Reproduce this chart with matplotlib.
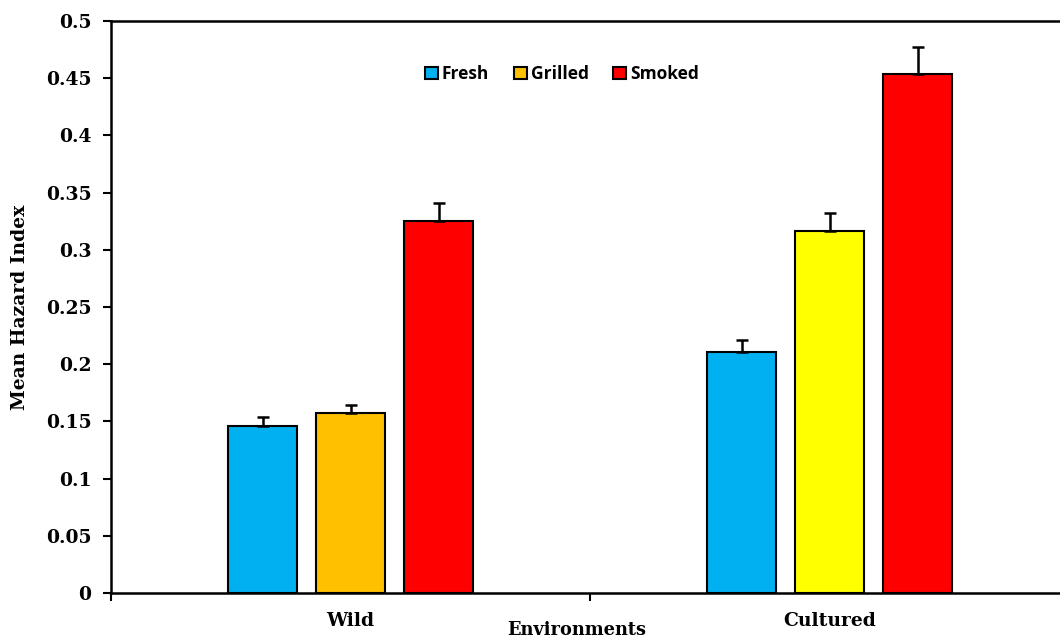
import matplotlib
matplotlib.use("Agg")
import matplotlib.pyplot as plt
import numpy as np
from matplotlib.patches import Patch

categories = ["Wild", "Cultured"]
series = ["Fresh", "Grilled", "Smoked"]
fresh = [0.146, 0.211]
grilled = [0.157, 0.316]
smoked = [0.325, 0.454]
fresh_err = [0.008, 0.010]
grilled_err = [0.007, 0.016]
smoked_err = [0.016, 0.023]
yticks = [0, 0.05, 0.1, 0.15, 0.2, 0.25, 0.3, 0.35, 0.4, 0.45, 0.5]
ytick_labels = ["0", "0.05", "0.1", "0.15", "0.2", "0.25", "0.3", "0.35", "0.4", "0.45", "0.5"]

fresh_colors = ["#00B0F0", "#00B0F0"]
grilled_colors = ["#FFC000", "#FFFF00"]
smoked_colors = ["#FF0000", "#FF0000"]

W, H = 1060, 641
fig = plt.figure(figsize=(W / 100, H / 100), dpi=100)
ax = fig.add_axes([111 / W, (H - 593) / H, 958 / W, (593 - 21) / H])

serif = "DejaVu Serif"
centers = np.arange(len(categories)) + 0.5
width = 69 / 479
step = 88 / 479

groups = [(fresh, fresh_err, fresh_colors), (grilled, grilled_err, grilled_colors), (smoked, smoked_err, smoked_colors)]
for i, (vals, errs, cols) in enumerate(groups):
    x = centers + (i - 1) * step
    ax.bar(x, vals, width=width, color=cols, edgecolor="black", linewidth=1.5, zorder=2)
    ax.errorbar(x, vals, yerr=[np.zeros(len(vals)), errs], fmt="none", ecolor="black",
                elinewidth=1.8, capsize=4.5, capthick=1.8, zorder=3)

ax.set_xlim(0, 2)
ax.set_ylim(0, 0.5)
ax.set_yticks(yticks)
ax.set_yticklabels(ytick_labels, fontfamily=serif, fontweight="bold", fontsize=13.5)
ax.set_xticks([0, 1, 2])
ax.set_xticklabels([])
ax.set_xticks(centers, minor=True)
ax.set_xticklabels(categories, minor=True, fontfamily=serif, fontweight="bold", fontsize=13.5)
ax.tick_params(axis="x", which="minor", length=0, pad=14)
ax.tick_params(axis="x", which="major", length=6, width=1.5, direction="out")
ax.tick_params(axis="y", length=6, width=1.5, direction="out", pad=8)
for s in ["left", "bottom", "top"]:
    ax.spines[s].set_linewidth(1.8)
ax.spines["right"].set_visible(False)

fig.text(20 / W, 1 - 307 / H, "Mean Hazard Index", rotation=90, ha="center", va="center",
         fontfamily=serif, fontweight="bold", fontsize=13.5)
fig.text(577 / W, 1 - 630 / H, "Environments", ha="center", va="center",
         fontfamily=serif, fontweight="bold", fontsize=12.8)

handles = [Patch(facecolor=fresh_colors[0], edgecolor="black", linewidth=1.5),
           Patch(facecolor=grilled_colors[0], edgecolor="black", linewidth=1.5),
           Patch(facecolor=smoked_colors[0], edgecolor="black", linewidth=1.5)]
fig.legend(handles, series, loc="center", bbox_to_anchor=(562 / W, 1 - 74 / H), ncol=3,
           frameon=False, handlelength=0.75, handleheight=0.75, handletextpad=0.25, columnspacing=1.4,
           prop={"family": "Open Sans", "weight": "bold", "size": 12.5})

fig.savefig("out.png", dpi=100)
